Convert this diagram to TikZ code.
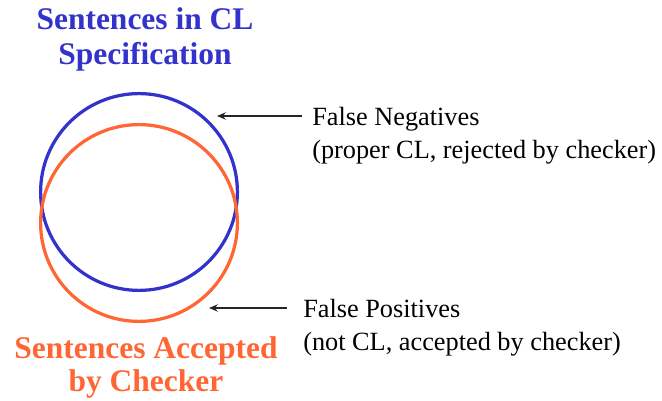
\documentclass[tikz,border=0pt]{standalone}
\usepackage{fontspec}
\setmainfont{Liberation Serif}
\usetikzlibrary{arrows.meta}
\definecolor{specblue}{HTML}{3333CC}
\definecolor{accorange}{HTML}{FF6633}
\begin{document}
\begin{tikzpicture}[
        setring/.style={draw, circle, line width=2.3pt, minimum size=4.92cm, inner sep=0pt},
        settitle/.style={align=center, inner sep=0pt, anchor=base, font=\fontsize{22.4}{24.4}\selectfont\bfseries},
        errlabel/.style={align=left, inner sep=0pt, anchor=base west, font=\fontsize{18.7}{23.7}\selectfont},
        pointer/.style={-{Stealth[length=2.3mm, width=1.9mm, inset=0.9mm]}, line width=0.85pt, black!85}
    ]
    \useasboundingbox (0,0) rectangle (16.55,10.025);

    % the two sets
    \node[setring, specblue] (spec) at (3.475,5.225) {};
    \node[setring, accorange] (acc) at (3.475,4.45) {};

    % titles (anchored at the baseline of their last line)
    \node[settitle, text=specblue, font=\fontsize{22.4}{24.9}\selectfont\bfseries] (spectitle) at (3.625,8.4) {Sentences in CL\\Specification};
    \node[settitle, text=accorange, font=\fontsize{22.4}{23.9}\selectfont\bfseries] (acctitle) at (3.65,0.23) {Sentences Accepted\\by Checker};

    % error labels
    \node[errlabel] (fneg) at (7.8,6.05) {False Negatives\\(proper CL, rejected by checker)};
    \node[errlabel] (fpos) at (7.575,1.2575) {False Positives\\(not CL, accepted by checker)};

    \coordinate (fnegtail) at (7.55,7.125);
    \coordinate (fnegtip) at (5.425,7.125);
    \coordinate (fpostail) at (7.175,2.325);
    \coordinate (fpostip) at (5.225,2.325);
    \draw[pointer] (fnegtail) -- (fnegtip);
    \draw[pointer] (fpostail) -- (fpostip);
\end{tikzpicture}
\end{document}
